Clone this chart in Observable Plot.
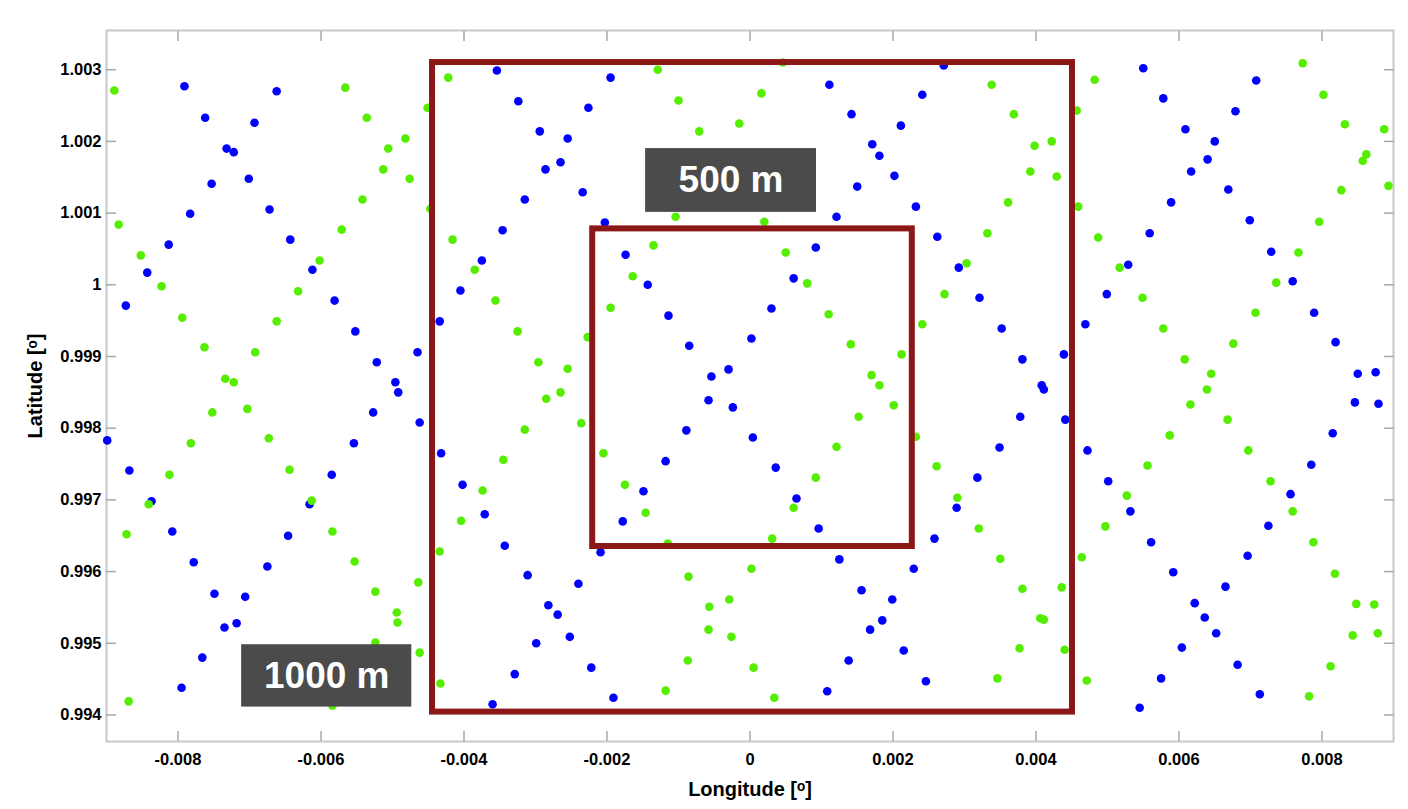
<!DOCTYPE html>
<html>
<head>
<meta charset="utf-8">
<script src="https://cdn.jsdelivr.net/npm/d3@7"></script>
<script src="https://cdn.jsdelivr.net/npm/@observablehq/plot@0.6"></script>
<style>
  html, body { margin: 0; padding: 0; background: #ffffff; }
  #chart { width: 1408px; height: 809px; }
</style>
</head>
<body>
<div id="chart"></div>
<script>
// ---- Data (longitude / latitude in degrees) ----
const blueLon = [-0.00791,-0.00662,-0.00762,-0.00693,-0.00732,-0.00722,-0.00753,-0.00701,-0.00783,-0.00672,
-0.00813,-0.00643,-0.00612,-0.00843,-0.00354,-0.00195,-0.00324,-0.00226,-0.00294,-0.00255,
-0.00265,-0.00286,-0.00234,-0.00315,-0.00203,-0.00346,-0.00375,-0.00174,0.00271,0.00111,
0.00241,0.00142,0.00211,0.00171,0.00181,0.00202,0.00150,0.00232,0.00121,0.00262,
0.00092,0.00292,0.00550,0.00708,0.00578,0.00679,0.00609,0.00650,0.00640,0.00617,
0.00669,0.00589,0.00699,0.00559,0.00729,0.00529,-0.00873,-0.00581,-0.00552,-0.00465,
-0.00522,-0.00496,-0.00492,-0.00527,-0.00462,-0.00554,-0.00899,-0.00868,-0.00585,-0.00837,
-0.00616,-0.00405,-0.00434,-0.00143,-0.00114,-0.00085,-0.00054,-0.00030,0.00002,-0.00058,
-0.00024,-0.00089,0.00004,-0.00118,-0.00149,-0.00432,-0.00402,0.00061,0.00030,0.00036,
0.00065,0.00321,0.00352,0.00381,0.00439,0.00408,0.00411,0.00378,0.00441,0.00349,
0.00318,0.00289,0.00499,0.00469,0.00759,0.00789,0.00819,0.00850,0.00875,0.00846,
0.00879,0.00815,0.00785,0.00756,0.00472,0.00501,0.00532,-0.00808,-0.00646,-0.00778,
-0.00675,-0.00749,-0.00706,-0.00735,-0.00718,-0.00766,-0.00795,-0.00371,-0.00343,-0.00311,
-0.00282,-0.00269,-0.00299,-0.00252,-0.00329,-0.00222,-0.00360,-0.00191,-0.00240,-0.00209,
-0.00178,0.00096,0.00125,0.00156,0.00185,0.00199,0.00168,0.00138,0.00108,0.00215,
0.00246,0.00229,0.00258,0.00561,0.00592,0.00622,0.00636,0.00604,0.00652,0.00575,
0.00682,0.00545,0.00713,0.00665,0.00696,0.00725];
const blueLat = [1.00277,1.00270,1.00233,1.00226,1.00190,1.00185,1.00141,1.00148,1.00099,1.00105,
1.00056,1.00063,1.00021,1.00017,1.00299,1.00289,1.00256,1.00247,1.00214,1.00204,
1.00171,1.00161,1.00129,1.00119,1.00087,1.00076,1.00034,1.00042,1.00306,1.00279,
1.00265,1.00238,1.00222,1.00196,1.00180,1.00152,1.00137,1.00109,1.00095,1.00067,
1.00052,1.00024,1.00302,1.00285,1.00260,1.00242,1.00217,1.00200,1.00175,1.00158,
1.00133,1.00115,1.00090,1.00072,1.00046,1.00028,0.99971,0.99978,0.99935,0.99906,
0.99892,0.99864,0.99850,0.99822,0.99808,0.99779,0.99783,0.99741,0.99735,0.99698,
0.99694,0.99992,0.99949,1.00000,0.99957,0.99915,0.99872,0.99882,0.99925,0.99839,
0.99829,0.99797,0.99787,0.99754,0.99712,0.99765,0.99721,1.00009,0.99967,0.99745,
0.99702,0.99982,0.99939,0.99896,0.99903,0.99860,0.99854,0.99816,0.99812,0.99773,
0.99731,0.99689,0.99987,0.99945,1.00005,0.99961,0.99920,0.99876,0.99878,0.99836,
0.99834,0.99793,0.99749,0.99708,0.99769,0.99726,0.99684,0.99656,0.99650,0.99613,
0.99607,0.99569,0.99565,0.99522,0.99528,0.99480,0.99438,0.99680,0.99636,0.99595,
0.99553,0.99540,0.99500,0.99509,0.99457,0.99466,0.99415,0.99424,0.99583,0.99627,
0.99670,0.99660,0.99617,0.99574,0.99532,0.99561,0.99519,0.99476,0.99433,0.99490,
0.99447,0.99604,0.99646,0.99641,0.99599,0.99556,0.99536,0.99494,0.99514,0.99451,
0.99470,0.99410,0.99429,0.99579,0.99622,0.99664];

const greenLon = [-0.00889,-0.00566,-0.00536,-0.00451,-0.00482,-0.00506,-0.00513,-0.00476,-0.00542,-0.00571,
-0.00602,-0.00883,-0.00852,-0.00422,-0.00129,-0.00100,-0.00071,-0.00015,-0.00447,-0.00416,
-0.00385,-0.00104,-0.00135,0.00046,0.00016,0.00338,0.00369,0.00398,0.00422,0.00392,
0.00429,0.00361,0.00332,0.00303,0.00457,0.00459,0.00020,0.00050,0.00482,0.00773,
0.00802,0.00832,0.00887,0.00862,0.00857,0.00893,0.00827,0.00796,0.00767,0.00487,
0.00517,-0.00823,-0.00794,-0.00763,-0.00632,-0.00662,-0.00692,-0.00734,-0.00722,-0.00703,
-0.00752,-0.00673,-0.00782,-0.00644,-0.00812,-0.00841,-0.00613,-0.00356,-0.00325,-0.00296,
-0.00255,-0.00265,-0.00285,-0.00236,-0.00315,-0.00227,-0.00345,-0.00374,-0.00164,-0.00195,
-0.00205,-0.00175,-0.00146,0.00080,0.00110,0.00141,0.00212,0.00170,0.00181,0.00201,
0.00152,0.00121,0.00092,0.00061,0.00272,0.00241,0.00232,0.00261,0.00290,0.00549,
0.00578,0.00608,0.00645,0.00639,0.00616,0.00668,0.00587,0.00556,0.00527,0.00736,
0.00707,0.00676,0.00697,0.00728,0.00759,-0.00872,-0.00869,-0.00584,-0.00553,-0.00524,
-0.00464,-0.00494,-0.00493,-0.00524,-0.00462,-0.00584,-0.00404,-0.00434,-0.00433,-0.00115,
-0.00086,-0.00057,-0.00029,-0.00058,-0.00026,0.00002,-0.00087,-0.00118,0.00005,0.00031,
0.00034,0.00320,0.00350,0.00381,0.00436,0.00406,0.00411,0.00377,0.00440,0.00346,
0.00464,0.00497,0.00471,0.00788,0.00818,0.00848,0.00873,0.00843,0.00878,0.00812,
0.00782];
const greenLat = [1.00271,1.00275,1.00233,1.00247,1.00204,1.00190,1.00161,1.00148,1.00119,1.00077,
1.00034,1.00084,1.00041,1.00289,1.00300,1.00257,1.00214,1.00225,1.00106,1.00063,
1.00021,1.00095,1.00055,1.00310,1.00267,1.00279,1.00238,1.00194,1.00200,1.00158,
1.00151,1.00115,1.00072,1.00030,1.00243,1.00109,1.00088,1.00045,1.00286,1.00309,
1.00265,1.00224,1.00217,1.00182,1.00173,1.00138,1.00132,1.00088,1.00045,1.00066,
1.00024,0.99998,0.99954,0.99913,0.99991,0.99949,0.99906,0.99869,0.99864,0.99827,
0.99822,0.99786,0.99779,0.99742,0.99735,0.99694,0.99699,0.99978,0.99935,0.99892,
0.99883,0.99850,0.99841,0.99807,0.99798,0.99927,0.99756,0.99713,1.00012,0.99968,
0.99765,0.99721,0.99682,1.00002,0.99959,0.99917,0.99903,0.99874,0.99860,0.99832,
0.99816,0.99774,0.99731,0.99689,0.99987,0.99945,0.99788,0.99747,0.99703,0.99982,
0.99939,0.99896,0.99876,0.99854,0.99833,0.99812,0.99790,0.99748,0.99706,1.00003,
0.99961,0.99918,0.99769,0.99726,0.99684,0.99652,0.99419,0.99656,0.99614,0.99572,
0.99585,0.99543,0.99529,0.99501,0.99487,0.99413,0.99671,0.99628,0.99444,0.99639,
0.99593,0.99551,0.99561,0.99519,0.99509,0.99604,0.99476,0.99434,0.99466,0.99646,
0.99424,0.99660,0.99618,0.99576,0.99578,0.99535,0.99533,0.99493,0.99491,0.99451,
0.99620,0.99663,0.99448,0.99641,0.99597,0.99555,0.99554,0.99511,0.99514,0.99468,
0.99426];

// Study zones (square outlines) and their labels
const zoneName   = ["1000 m", "500 m"];
const zoneLonMin = [-0.00444, -0.00220];
const zoneLonMax = [ 0.00451,  0.00227];
const zoneLatMin = [ 0.99404,  0.99635];
const zoneLatMax = [ 1.00310,  1.00078];
const tagLonMin  = [-0.00711, -0.00146];
const tagLonMax  = [-0.00473,  0.00093];
const tagLatMin  = [ 0.99411,  1.00101];
const tagLatMax  = [ 0.99498,  1.00190];

// Axis ticks
const xTicks = [-0.008, -0.006, -0.004, -0.002, 0, 0.002, 0.004, 0.006, 0.008];
const xTickLabels = ["-0.008", "-0.006", "-0.004", "-0.002", "0", "0.002", "0.004", "0.006", "0.008"];
const yTicks = [0.994, 0.995, 0.996, 0.997, 0.998, 0.999, 1, 1.001, 1.002, 1.003];
const yTickLabels = ["0.994", "0.995", "0.996", "0.997", "0.998", "0.999", "1", "1.001", "1.002", "1.003"];
const xTitle = "Longitude [ᵒ]";
const yTitle = "Latitude [ᵒ]";

// ---- Build tables ----
const blue = blueLon.map((lon, i) => ({lon, lat: blueLat[i]}));
const green = greenLon.map((lon, i) => ({lon, lat: greenLat[i]}));
const zones = zoneName.map((name, i) => ({
  name, x1: zoneLonMin[i], x2: zoneLonMax[i], y1: zoneLatMin[i], y2: zoneLatMax[i],
  tx1: tagLonMin[i], tx2: tagLonMax[i], ty1: tagLatMin[i], ty2: tagLatMax[i]
}));

const xFmt = d => xTickLabels[xTicks.indexOf(d)];
const yFmt = d => yTickLabels[yTicks.indexOf(d)];
const tickGray = "#a8a8a8";

const chart = Plot.plot({
  width: 1408,
  height: 809,
  marginLeft: 106,
  marginRight: 15,
  marginTop: 30,
  marginBottom: 68,
  style: {fontFamily: "'Liberation Sans', Arial, sans-serif", fontWeight: "bold", fontSize: "16px", background: "#ffffff", color: "#000"},
  x: {domain: [-0.009, 0.009]},
  y: {domain: [0.99363, 1.003547]},
  marks: [
    Plot.frame({stroke: "#c8c8c8", strokeWidth: 2}),
    // inward ticks on all four sides
    Plot.axisX(xTicks, {anchor: "bottom", tickSize: 10, dy: -10, tickFormat: () => "", stroke: tickGray, strokeWidth: 1.5, label: null}),
    Plot.axisX(xTicks, {anchor: "top", tickSize: 10, dy: 10, tickFormat: () => "", stroke: tickGray, strokeWidth: 1.5, label: null}),
    Plot.axisY(yTicks, {anchor: "left", tickSize: 10, dx: 10, tickFormat: () => "", stroke: tickGray, strokeWidth: 1.5, label: null}),
    Plot.axisY(yTicks, {anchor: "right", tickSize: 10, dx: -10, tickFormat: () => "", stroke: tickGray, strokeWidth: 1.5, label: null}),
    // tick labels
    Plot.axisX(xTicks, {anchor: "bottom", tickSize: 0, tickPadding: 12, tickFormat: xFmt, fontSize: 16.5, fontWeight: "bold", fill: "#000", label: null}),
    Plot.axisY(yTicks, {anchor: "left", tickSize: 0, tickPadding: 5, tickFormat: yFmt, fontSize: 16.5, fontWeight: "bold", fill: "#000", label: null}),
    // axis titles
    Plot.text([xTitle], {frameAnchor: "bottom", dy: 48, text: d => d, fontSize: 20, fontWeight: "bold", fill: "#000",
      textAnchor: "middle", lineAnchor: "middle"}),
    Plot.text([yTitle], {frameAnchor: "left", dx: -71, rotate: -90, text: d => d, fontSize: 20, fontWeight: "bold", fill: "#000",
      textAnchor: "middle", lineAnchor: "middle"}),
    // data points
    Plot.dot(blue, {x: "lon", y: "lat", r: 4.3, fill: "#0000ff", stroke: "none"}),
    Plot.dot(green, {x: "lon", y: "lat", r: 4.3, fill: "#55ee00", stroke: "none"}),
    // zone outlines
    Plot.rect(zones, {x1: "x1", x2: "x2", y1: "y1", y2: "y2", fill: "none", stroke: "#8b1717", strokeWidth: 6}),
    // zone labels
    Plot.rect(zones, {x1: "tx1", x2: "tx2", y1: "ty1", y2: "ty2", fill: "#4b4b4b"}),
    Plot.text(zones, {x: d => (d.tx1 + d.tx2) / 2, y: d => (d.ty1 + d.ty2) / 2, text: "name", fill: "#ffffff",
      fontSize: 37, fontWeight: "bold", textAnchor: "middle", lineAnchor: "middle"})
  ]
});
document.getElementById("chart").appendChild(chart);
</script>
</body>
</html>
